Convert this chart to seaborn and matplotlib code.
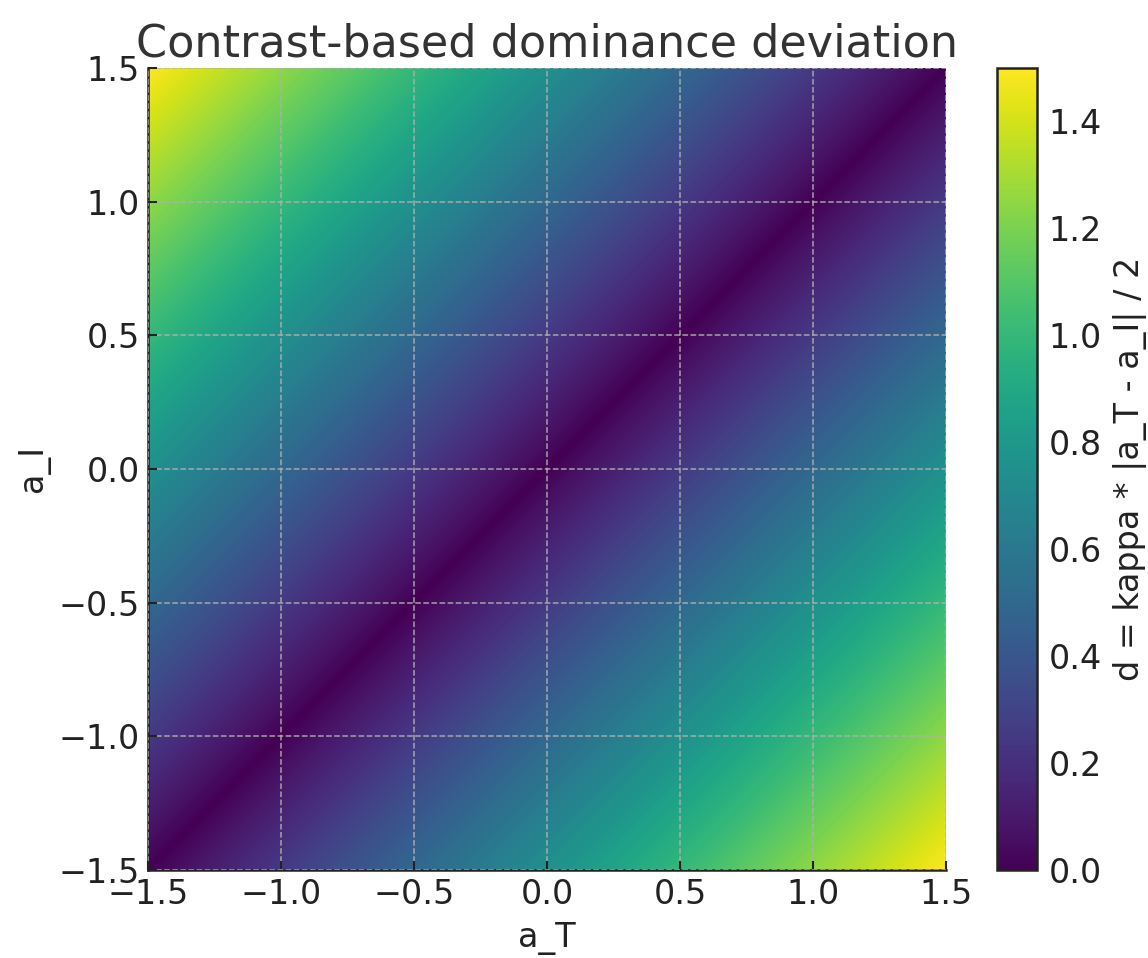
import numpy as np
import pandas as pd
import matplotlib
matplotlib.use("Agg")
import matplotlib.pyplot as plt
import seaborn as sns

# Axis ranges and parameters (from the chart)
a_T_range = [-1.5, 1.5]
a_I_range = [-1.5, 1.5]
kappa = 1.0
n_cells = 300
tick_values = [-1.5, -1.0, -0.5, 0.0, 0.5, 1.0, 1.5]
tick_labels = ["\u22121.5", "\u22121.0", "\u22120.5", "0.0", "0.5", "1.0", "1.5"]
cbar_ticks = [0.0, 0.2, 0.4, 0.6, 0.8, 1.0, 1.2, 1.4]

edges = np.linspace(a_T_range[0], a_T_range[1], n_cells + 1)
a_T = (edges[:-1] + edges[1:]) / 2
a_I = (edges[:-1] + edges[1:]) / 2
AT, AI = np.meshgrid(a_T, a_I)
D = kappa * np.abs(AT - AI) / 2
df = pd.DataFrame(D[::-1], index=a_I[::-1], columns=a_T)

sns.set_theme(style="white")
plt.rcParams["font.family"] = ["DejaVu Sans"]

fig = plt.figure(figsize=(11.48, 9.58), dpi=100)
ax = fig.add_axes([0.129, 0.092, 0.695, 0.837])
cax = fig.add_axes([0.8685, 0.092, 0.035, 0.837])

sns.heatmap(df, ax=ax, cmap="viridis", vmin=0, vmax=1.5, cbar_ax=cax,
            xticklabels=False, yticklabels=False, rasterized=True,
            cbar_kws={"ticks": cbar_ticks})

def to_pos(v, rng, flip=False):
    p = (v - rng[0]) / (rng[1] - rng[0]) * n_cells
    return n_cells - p if flip else p

ax.set_xticks([to_pos(v, a_T_range) for v in tick_values])
ax.set_xticklabels(tick_labels)
ax.set_yticks([to_pos(v, a_I_range, flip=True) for v in tick_values])
ax.set_yticklabels(tick_labels, rotation=0)

dark = "#222222"
fs = 24
ax.tick_params(axis="both", direction="in", length=6.5, width=1.5,
               colors=dark, labelsize=fs, pad=6, bottom=True, left=True)
for s in ["left", "bottom"]:
    ax.spines[s].set_visible(True)
    ax.spines[s].set_color(dark)
    ax.spines[s].set_linewidth(1.8)
for s in ["top", "right"]:
    ax.spines[s].set_visible(False)

ax.set_axisbelow(False)
ax.grid(True, linestyle="--", color="#b0b0b0", linewidth=1.1, alpha=0.9)

ax.set_xlabel("a_T", fontsize=fs, color=dark, labelpad=8)
ax.set_ylabel("a_I", fontsize=fs, color=dark, labelpad=6)
ax.set_title("Contrast-based dominance deviation", fontsize=32, color="#333333", pad=8)

cb = ax.collections[0].colorbar
cb.outline.set_visible(True)
cb.outline.set_edgecolor(dark)
cb.outline.set_linewidth(1.8)
cb.set_ticklabels(["0.0", "0.2", "0.4", "0.6", "0.8", "1.0", "1.2", "1.4"])
cax.tick_params(direction="in", length=6.5, width=1.5, colors=dark, labelsize=fs, pad=8)
cb.set_label("d = kappa * |a_T - a_I| / 2", fontsize=fs, color=dark, labelpad=8)

fig.savefig("out.png", dpi=100)
